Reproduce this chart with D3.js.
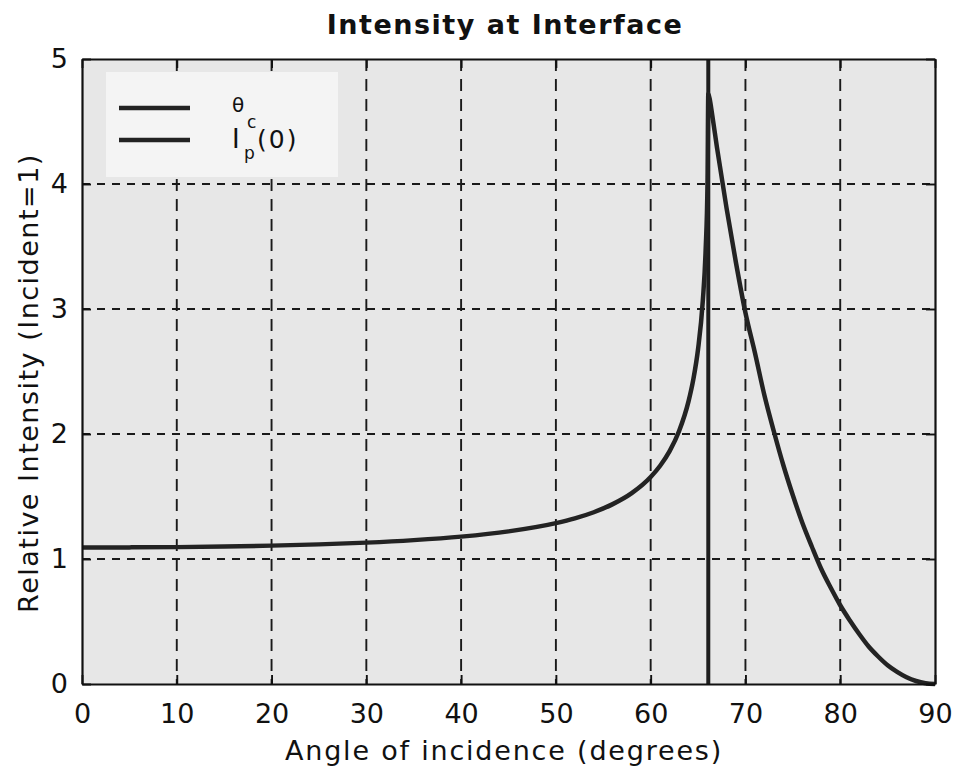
<!DOCTYPE html>
<html>
<head>
<meta charset="utf-8">
<script src="https://cdn.jsdelivr.net/npm/d3@7"></script>
<style>
  html, body { margin: 0; padding: 0; background: #fff; }
  svg { display: block; }
  text { font-family: "DejaVu Sans", Verdana, sans-serif; fill: #111; }
</style>
</head>
<body>
<svg id="chart" width="957" height="774"></svg>
<script>
// Angle of incidence (degrees) and relative p-polarised intensity at the interface
const angles = [0, 5, 10, 15, 20, 25, 30, 35, 40, 45, 50, 52, 54, 56, 58, 60, 61, 62, 63, 64, 64.5, 65, 65.5, 65.8, 66.0,
                66.08, 66.2, 66.5, 67, 68, 69, 70, 71, 72, 73, 74, 75, 76, 77, 78, 79, 80, 81, 82, 83, 84, 85, 86, 87, 88, 89, 90];
const intensity = [1.092, 1.093, 1.095, 1.100, 1.107, 1.117, 1.131, 1.151, 1.179, 1.221, 1.287, 1.325, 1.374, 1.439, 1.527,
                   1.656, 1.746, 1.863, 2.024, 2.263, 2.437, 2.679, 3.064, 3.471, 4.018,
                   4.72, 4.69, 4.55, 4.29, 3.81, 3.37, 2.97, 2.65, 2.31, 2.02, 1.75, 1.51, 1.29, 1.10, 0.92, 0.77,
                   0.63, 0.51, 0.40, 0.30, 0.22, 0.15, 0.097, 0.054, 0.024, 0.006, 0];
// Critical angle marker
const criticalAngle = [66.08];
const xTicks = [0, 10, 20, 30, 40, 50, 60, 70, 80, 90];
const yTicks = [0, 1, 2, 3, 4, 5];

const svg = d3.select("#chart");
const m = { left: 82, right: 935, top: 59, bottom: 684 };

const x = d3.scaleLinear().domain([0, 90]).range([m.left, m.right]);
const y = d3.scaleLinear().domain([0, 5]).range([m.bottom, m.top]);

// plot background
svg.append("rect")
  .attr("x", m.left).attr("y", m.top)
  .attr("width", m.right - m.left).attr("height", m.bottom - m.top)
  .attr("fill", "#e7e7e7");

// dashed grid
const grid = svg.append("g").attr("stroke", "#1a1a1a").attr("stroke-width", 1.9);
grid.selectAll("line.gx").data(xTicks.slice(1, -1)).join("line")
  .attr("stroke-dasharray", "12,8")
  .attr("x1", d => x(d)).attr("x2", d => x(d))
  .attr("y1", m.top).attr("y2", m.bottom);
grid.selectAll("line.gy").data(yTicks.slice(1, -1)).join("line")
  .attr("stroke-dasharray", "8,7")
  .attr("x1", m.left).attr("x2", m.right)
  .attr("y1", d => y(d)).attr("y2", d => y(d));

// legend box
const lg = svg.append("g");
lg.append("rect").attr("x", 106).attr("y", 72).attr("width", 232).attr("height", 105)
  .attr("fill", "#f4f4f4");
[108, 140].forEach(ly => {
  lg.append("line").attr("x1", 119).attr("x2", 190).attr("y1", ly).attr("y2", ly)
    .attr("stroke", "#222").attr("stroke-width", 4.5);
});
lg.append("text").attr("x", 232).attr("y", 112).attr("font-size", 20).text("θ");
lg.append("text").attr("x", 247).attr("y", 128).attr("font-size", 17).text("c");
lg.append("text").attr("x", 232).attr("y", 148).attr("font-size", 26).text("I");
lg.append("text").attr("x", 244).attr("y", 159).attr("font-size", 17).text("p");
lg.append("text").attr("x", 257).attr("y", 148).attr("font-size", 25)
  .attr("letter-spacing", 2).text("(0)");

// critical angle line
svg.selectAll("line.crit").data(criticalAngle).join("line")
  .attr("x1", d => x(d)).attr("x2", d => x(d))
  .attr("y1", m.top).attr("y2", m.bottom)
  .attr("stroke", "#1e1e1e").attr("stroke-width", 4);

// intensity curve
const pts = angles.map((a, i) => [a, intensity[i]]);
svg.append("path")
  .datum(pts)
  .attr("fill", "none").attr("stroke", "#232323").attr("stroke-width", 4.5)
  .attr("stroke-linejoin", "round")
  .attr("d", d3.line().curve(d3.curveMonotoneX).x(d => x(d[0])).y(d => y(d[1])));

// axes with inward ticks on all four sides
const tickLen = 9;
const fmt = d3.format("d");
const axB = svg.append("g").attr("transform", `translate(0,${m.bottom})`)
  .call(d3.axisBottom(x).tickValues(xTicks).tickFormat(fmt).tickSizeInner(-tickLen).tickSizeOuter(0).tickPadding(20));
const axT = svg.append("g").attr("transform", `translate(0,${m.top})`)
  .call(d3.axisTop(x).tickValues(xTicks).tickSizeInner(-tickLen).tickSizeOuter(0).tickFormat(""));
const axL = svg.append("g").attr("transform", `translate(${m.left},0)`)
  .call(d3.axisLeft(y).tickValues(yTicks).tickFormat(fmt).tickSizeInner(-tickLen).tickSizeOuter(0).tickPadding(14));
const axR = svg.append("g").attr("transform", `translate(${m.right},0)`)
  .call(d3.axisRight(y).tickValues(yTicks).tickSizeInner(-tickLen).tickSizeOuter(0).tickFormat(""));
[axB, axT, axL, axR].forEach(a => {
  a.select(".domain").attr("stroke", "#111").attr("stroke-width", 2.2);
  a.selectAll(".tick line").attr("stroke", "#111").attr("stroke-width", 1.9);
  a.selectAll("text").attr("font-size", 27).attr("fill", "#111")
    .style("font-family", '"DejaVu Sans", Verdana, sans-serif');
});

// titles
svg.append("text").attr("x", 505).attr("y", 34).attr("text-anchor", "middle")
  .attr("font-size", 27).attr("font-weight", "bold").attr("letter-spacing", 1.5)
  .text("Intensity at Interface");
svg.append("text").attr("x", 504).attr("y", 760).attr("text-anchor", "middle")
  .attr("font-size", 27).attr("letter-spacing", 1.8).text("Angle of incidence (degrees)");
svg.append("text").attr("transform", "translate(38,383) rotate(-90)")
  .attr("text-anchor", "middle").attr("font-size", 27).attr("letter-spacing", 1.5)
  .text("Relative Intensity (Incident=1)");
</script>
</body>
</html>
